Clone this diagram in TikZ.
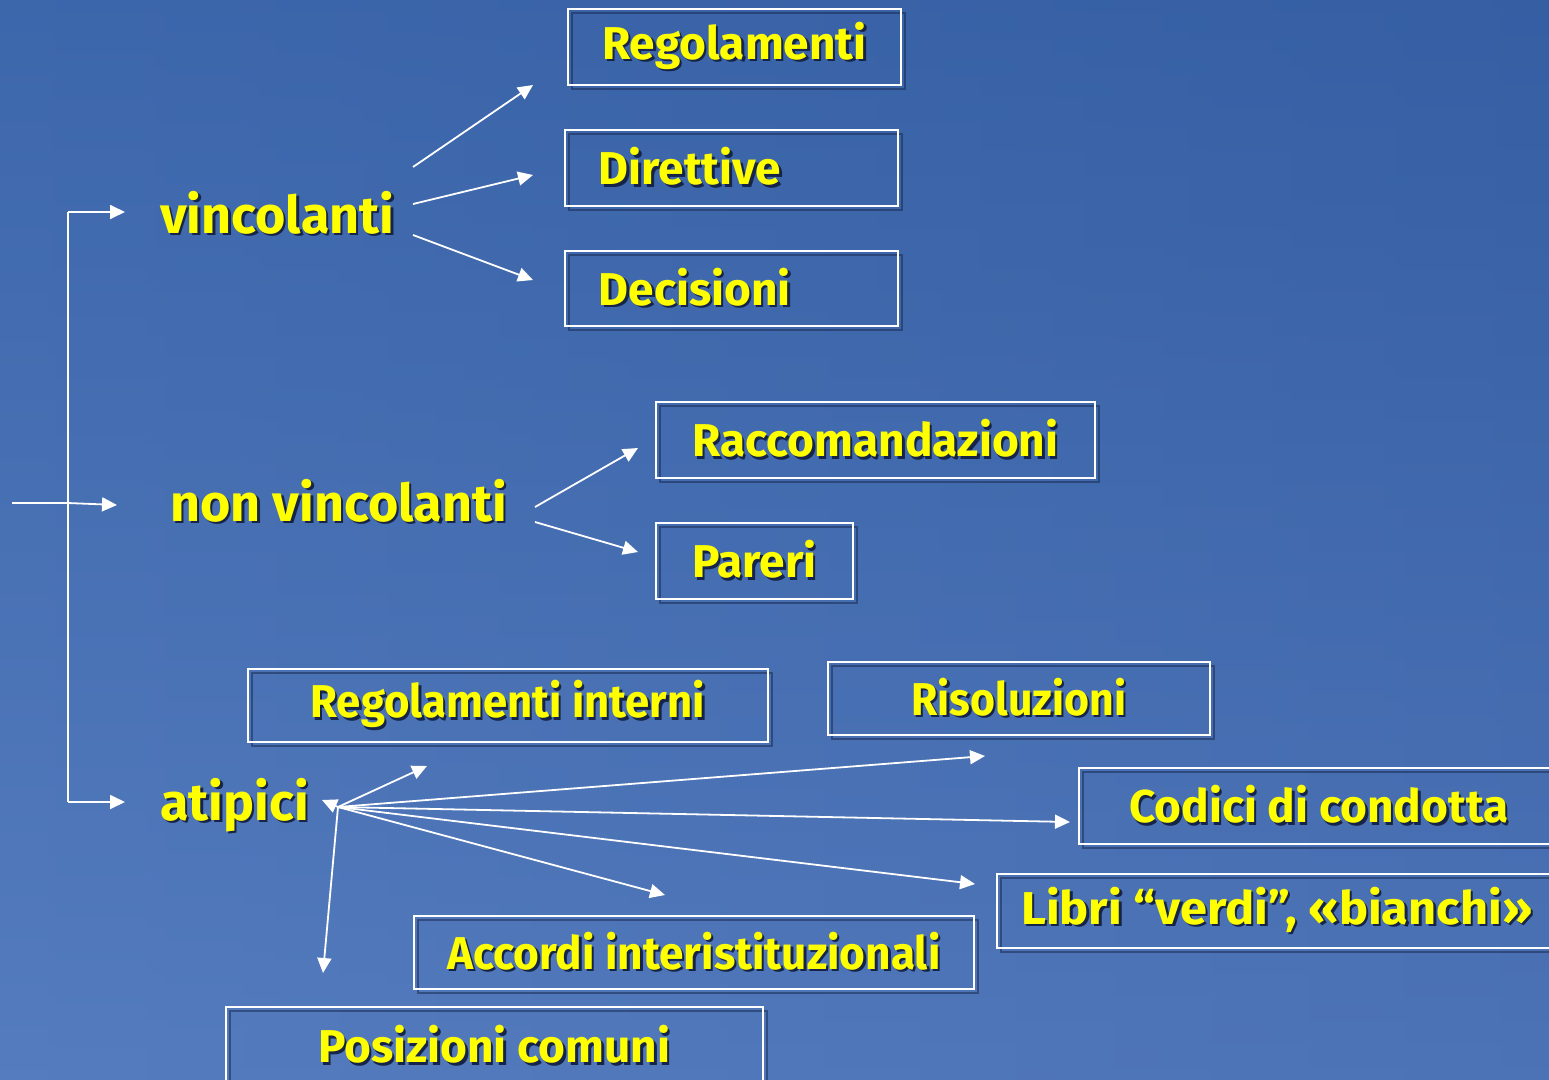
\documentclass[tikz,border=0pt]{standalone}
\usepackage{fontspec}
\setmainfont{Fira Sans}
\usetikzlibrary{arrows.meta}
\definecolor{sfondoA}{RGB}{34,78,150}
\definecolor{sfondoB}{RGB}{84,124,190}
\definecolor{sfondoC}{RGB}{70,108,175}
\definecolor{giallo}{RGB}{255,255,0}
\definecolor{ombra}{RGB}{22,36,72}
\newcommand{\ombrato}[1]{\leavevmode\rlap{\kern2.5pt\raisebox{-2.5pt}{\textcolor{ombra}{#1}}}#1}
\newcommand{\stretto}[2][0.8]{\scalebox{#1}[1]{\ombrato{#2}}}
\tikzset{>={Triangle[length = 15pt, width = 14pt]}}
\tikzstyle{box} = [draw = white, line width = 1.6pt, inner sep = 0pt, text = giallo, anchor = north west, font = \fontsize{46}{52}\selectfont\bfseries, preaction = {draw = ombra, draw opacity = 0.5, transform canvas = {xshift = 4pt, yshift = -4pt}}]
\tikzstyle{boxsx} = [inner xsep = 34pt, align = left]
\tikzstyle{voce} = [text = giallo, inner sep = 0pt, anchor = base west, font = \fontsize{52}{58}\selectfont\bfseries]
\tikzstyle{freccia} = [->, white, line width = 1.8pt]

\begin{document}
\begin{tikzpicture}[x = 1pt, y = -1pt]
            \clip (0, 0) rectangle (1549, 1079);
            \shade [left color = sfondoB, middle color = sfondoA, right color = sfondoC] (0, 0) rectangle (1549, 1079);
            \shade [top color = sfondoA, bottom color = sfondoB, fill opacity = 0.45] (0, 0) rectangle (1549, 1079);

            \node (vincolanti) at (160, 233) [voce] {\ombrato{vincolanti}};
            \node (nonvincolanti) at (170, 521) [voce] {\ombrato{non vincolanti}};
            \node (atipici) at (160, 820) [voce] {\ombrato{atipici}};

            \node (regolamenti) at (567, 8) [box, minimum width = 333pt, minimum height = 76pt] {\ombrato{Regolamenti}};
            \node (direttive) at (564, 129) [box, boxsx, text width = 265pt, minimum height = 76pt] {\ombrato{Direttive}};
            \node (decisioni) at (564, 250) [box, boxsx, text width = 265pt, minimum height = 75pt] {\ombrato{Decisioni}};
            \node (raccomandazioni) at (655, 401) [box, minimum width = 439pt, minimum height = 76pt] {\ombrato{Raccomandazioni}};
            \node (pareri) at (655, 522) [box, minimum width = 197pt, minimum height = 76pt] {\ombrato{Pareri}};
            \node (reginterni) at (247, 668) [box, minimum width = 520pt, minimum height = 73pt] {\stretto[0.95]{Regolamenti interni}};
            \node (risoluzioni) at (827, 661) [box, minimum width = 382pt, minimum height = 73pt] {\stretto[0.93]{Risoluzioni}};
            \node (codici) at (1078, 767) [box, minimum width = 480pt, minimum height = 76pt] {\ombrato{Codici di condotta}};
            \node (libri) at (996, 873) [box, minimum width = 560pt, minimum height = 74pt] {\stretto[1.06]{Libri “verdi”, «bianchi»}};
            \node (accordi) at (413, 915) [box, minimum width = 560pt, minimum height = 73pt] {\stretto[0.96]{Accordi interistituzionali}};
            \node (posizioni) at (225, 1006) [box, minimum width = 537pt, minimum height = 78pt] {\stretto[1.0]{Posizioni comuni}};

            \coordinate (ingresso) at (12, 503);
            \coordinate (snodo) at (68, 503);
            \coordinate (alto) at (68, 212);
            \coordinate (basso) at (68, 802);
            \coordinate (v1) at (125, 212);
            \coordinate (n1) at (117, 505);
            \coordinate (a1) at (125, 802);
            \draw [white, line width = 1.8pt] (ingresso) -- (snodo);
            \draw [white, line width = 1.8pt] (alto) -- (basso);
            \draw [freccia] (alto) -- (v1);
            \draw [freccia] (snodo) -- (n1);
            \draw [freccia] (basso) -- (a1);

            \coordinate (vA) at (413, 167);
            \coordinate (vB) at (413, 204);
            \coordinate (vC) at (413, 235);
            \coordinate (vA2) at (533, 85);
            \coordinate (vB2) at (533, 175);
            \coordinate (vC2) at (533, 280);
            \draw [freccia] (vA) -- (vA2);
            \draw [freccia] (vB) -- (vB2);
            \draw [freccia] (vC) -- (vC2);

            \coordinate (nA) at (535, 507);
            \coordinate (nB) at (535, 522);
            \coordinate (nA2) at (638, 448);
            \coordinate (nB2) at (638, 552);
            \draw [freccia] (nA) -- (nA2);
            \draw [freccia] (nB) -- (nB2);

            \coordinate (ventaglio) at (338, 807);
            \coordinate (t1) at (322, 800);
            \coordinate (t2) at (427, 766);
            \coordinate (t3) at (985, 756);
            \coordinate (t4) at (1070, 822);
            \coordinate (t5) at (975, 884);
            \coordinate (t6) at (665, 895);
            \coordinate (t7) at (323, 973);
            \draw [freccia] (ventaglio) -- (t1);
            \draw [freccia] (ventaglio) -- (t2);
            \draw [freccia] (ventaglio) -- (t3);
            \draw [freccia] (ventaglio) -- (t4);
            \draw [freccia] (ventaglio) -- (t5);
            \draw [freccia] (ventaglio) -- (t6);
            \draw [freccia] (ventaglio) -- (t7);
        \end{tikzpicture}
\end{document}
